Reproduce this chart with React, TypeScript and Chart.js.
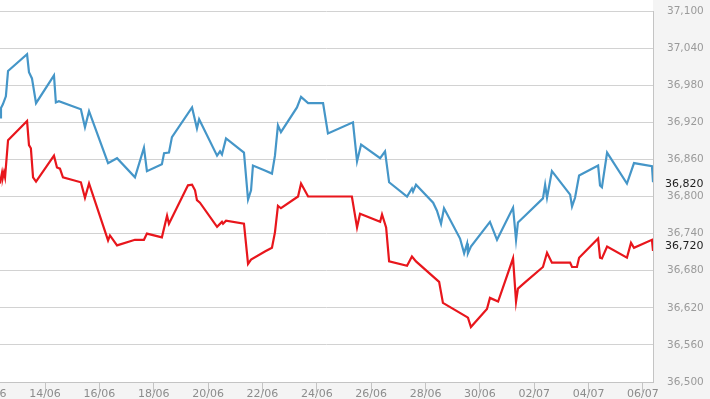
import { useEffect, useRef } from "react";
import { Chart, registerables } from "chart.js";

Chart.register(...registerables);

// Day numbers: June days as 12..30, July days continue as 31.. (02/07 = 32)
const blueDays = [
  12.34, 12.38, 12.45, 12.56, 12.64, 13.34, 13.41, 13.52, 13.67, 14.33,
  14.4, 14.51, 15.32, 15.47, 15.62, 16.32, 16.65, 17.31, 17.64, 17.75,
  18.3, 18.38, 18.56, 18.67, 19.41, 19.59, 19.67, 20.33, 20.44, 20.51,
  20.66, 21.32, 21.47, 21.58, 21.65, 22.09, 22.35, 22.46, 22.57, 22.68,
  23.27, 23.42, 23.68, 24.23, 24.41, 25.33, 25.48, 25.63, 26.33, 26.51,
  26.66, 27.32, 27.5, 27.54, 27.65, 28.28, 28.42, 28.57, 28.68, 29.27,
  29.42, 29.53, 29.56, 29.67, 30.37, 30.63, 31.22, 31.33, 31.4, 31.66,
  32.32, 32.4, 32.47, 32.65, 33.32, 33.39, 33.5, 33.65, 34.35, 34.42,
  34.49, 34.68, 35.41, 35.67, 36.33, 36.37,
];
const blueValues = [
  36928, 36943, 36949, 36962, 37003, 37030, 37001, 36991, 36951, 36996,
  36952, 36954, 36941, 36912, 36938, 36854, 36862, 36831, 36879, 36841,
  36852, 36870, 36871, 36896, 36944, 36910, 36925, 36866, 36873, 36868,
  36894, 36871, 36795, 36810, 36850, 36842, 36837, 36866, 36915, 36904,
  36944, 36961, 36951, 36951, 36902, 36920, 36857, 36884, 36862, 36873,
  36823, 36800, 36813, 36808, 36819, 36790, 36777, 36756, 36781, 36732,
  36708, 36724, 36708, 36719, 36759, 36730, 36782, 36730, 36758, 36769,
  36797, 36819, 36798, 36841, 36803, 36784, 36798, 36834, 36850, 36818,
  36815, 36871, 36821, 36854, 36849, 36823,
];
const redDays = [
  12.34, 12.42, 12.45, 12.49, 12.53, 12.64, 13.34, 13.41, 13.48, 13.56,
  13.67, 14.33, 14.44, 14.55, 14.66, 15.32, 15.47, 15.62, 16.32, 16.39,
  16.65, 17.31, 17.64, 17.75, 18.3, 18.49, 18.56, 19.26, 19.41, 19.52,
  19.59, 19.7, 20.33, 20.51, 20.55, 20.66, 21.32, 21.47, 21.58, 22.09,
  22.35, 22.46, 22.57, 22.68, 23.31, 23.42, 23.68, 25.29, 25.48, 25.59,
  26.33, 26.4, 26.55, 26.66, 27.32, 27.5, 27.65, 28.5, 28.64, 29.53,
  29.56, 29.67, 30.26, 30.37, 30.67, 31.22, 31.33, 31.4, 31.66, 32.32,
  32.47, 32.65, 33.32, 33.39, 33.57, 33.65, 34.35, 34.42, 34.49, 34.68,
  35.41, 35.56, 35.67, 36.33, 36.37,
];
const redValues = [
  36821, 36839, 36831, 36839, 36831, 36891, 36922, 36883, 36878, 36831,
  36824, 36866, 36847, 36845, 36831, 36823, 36798, 36821, 36729, 36737,
  36721, 36730, 36730, 36740, 36734, 36769, 36756, 36818, 36819, 36810,
  36794, 36790, 36751, 36759, 36756, 36761, 36756, 36691, 36698, 36711,
  36717, 36742, 36785, 36781, 36800, 36821, 36800, 36800, 36750, 36772,
  36759, 36771, 36750, 36695, 36688, 36703, 36695, 36662, 36628, 36605,
  36604, 36589, 36618, 36636, 36630, 36700, 36630, 36651, 36661, 36686,
  36709, 36693, 36693, 36686, 36686, 36701, 36732, 36701, 36700, 36719,
  36701, 36725, 36717, 36730, 36712,
];

const xTickDays = [12, 14, 16, 18, 20, 22, 24, 26, 28, 30, 32, 34, 36];
const xTickLabels = [
  "12/06", "14/06", "16/06", "18/06", "20/06", "22/06", "24/06",
  "26/06", "28/06", "30/06", "02/07", "04/07", "06/07",
];
const yTickValues = [
  36500, 36560, 36620, 36680, 36740, 36800, 36860, 36920, 36980, 37040, 37100,
];
const currentValues = [36820, 36720];

const X_MIN = 12.344;
const X_MAX = 36.369;
const Y_MIN = 36500;
const Y_MAX = 37100;

const FONT = "DejaVu Sans";

const fmt = (v: number) => Number(v).toLocaleString("en-US");

const zip = (xs: number[], ys: number[]) =>
  xs.slice(0, Math.min(xs.length, ys.length)).map((x, i) => ({ x, y: ys[i] }));

const backgroundPlugin = {
  id: "bgPlugin",
  beforeDraw(chart: any) {
    const { ctx, chartArea, width, height } = chart;
    ctx.save();
    ctx.fillStyle = "#f4f4f4";
    ctx.fillRect(0, 0, width, height);
    ctx.fillStyle = "#ffffff";
    ctx.fillRect(chartArea.left, 0, chartArea.right - chartArea.left, chartArea.bottom);
    ctx.restore();
  },
};

const currentLabelPlugin = {
  id: "currentLabels",
  afterDraw(chart: any) {
    const { ctx, chartArea } = chart;
    const yScale = chart.scales.y;
    ctx.save();
    ctx.font = `11px "${FONT}"`;
    ctx.fillStyle = "#1e1e1e";
    ctx.textBaseline = "middle";
    ctx.textAlign = "left";
    currentValues.forEach((v) => {
      ctx.fillText(fmt(v), chartArea.right + 12, yScale.getPixelForValue(v));
    });
    ctx.restore();
  },
};

export default function App() {
  const ref = useRef<HTMLCanvasElement>(null);

  useEffect(() => {
    if (!ref.current) return;
    const chart = new Chart(ref.current, {
      type: "line",
      data: {
        datasets: [
          {
            label: "blue",
            data: zip(blueDays, blueValues),
            borderColor: "#4596c8",
            borderWidth: 2.2,
            pointRadius: 0,
            tension: 0,
            fill: false,
          },
          {
            label: "red",
            data: zip(redDays, redValues),
            borderColor: "#e8161c",
            borderWidth: 2.2,
            pointRadius: 0,
            tension: 0,
            fill: false,
          },
        ],
      },
      options: {
        responsive: false,
        devicePixelRatio: 1,
        animation: false,
        layout: { padding: { top: 11, left: 0, right: 0, bottom: 0 } },
        plugins: {
          legend: { display: false },
          tooltip: { enabled: false },
        },
        scales: {
          x: {
            type: "linear",
            min: X_MIN,
            max: X_MAX,
            afterBuildTicks: (s: any) => {
              s.ticks = xTickDays.map((v) => ({ value: v }));
            },
            afterFit: (s: any) => {
              s.height = 17;
              s.paddingLeft = 0;
              s.paddingRight = 0;
            },
            grid: {
              drawOnChartArea: false,
              drawTicks: true,
              tickLength: 10,
              color: "#c4c4c4",
              lineWidth: 1,
            },
            border: { display: true, color: "#c4c4c4" },
            ticks: {
              padding: -4,
              maxRotation: 0,
              autoSkip: false,
              color: "#8c8c8c",
              font: { family: FONT, size: 11 },
              callback: (v: any) => {
                const i = xTickDays.indexOf(Number(v));
                return i >= 0 ? xTickLabels[i] : "";
              },
            },
          },
          y: {
            position: "right",
            min: Y_MIN,
            max: Y_MAX,
            afterBuildTicks: (s: any) => {
              s.ticks = yTickValues.map((v) => ({ value: v }));
            },
            afterFit: (s: any) => {
              s.width = 57;
              s.paddingTop = 0;
              s.paddingBottom = 0;
            },
            grid: { color: "#d2d2d2", drawTicks: false, lineWidth: 1 },
            border: { display: true, color: "#c4c4c4" },
            ticks: {
              padding: 14,
              color: "#9a9a9a",
              font: { family: FONT, size: 10.5 },
              callback: (v: any) => fmt(v),
            },
          },
        },
      },
      plugins: [backgroundPlugin, currentLabelPlugin],
    } as any);
    return () => chart.destroy();
  }, []);

  return (
    <div style={{ position: "fixed", left: 0, top: 0, width: 710, height: 399 }}>
      <canvas
        ref={ref}
        width={710}
        height={399}
        style={{ display: "block", width: 710, height: 399 }}
      />
    </div>
  );
}
